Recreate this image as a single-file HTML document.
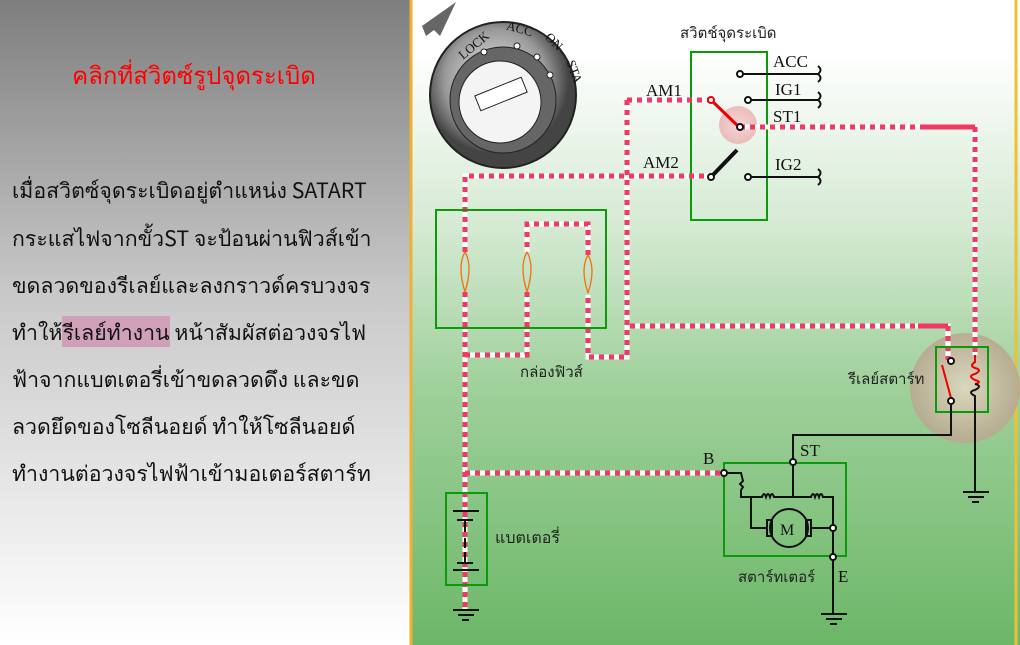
<!DOCTYPE html>
<html><head><meta charset="utf-8"><style>
body{margin:0;width:1020px;height:645px;overflow:hidden;position:relative;font-family:"Liberation Sans","Noto Sans CJK SC",sans-serif}
#left{position:absolute;left:0;top:0;width:410px;height:645px;background:linear-gradient(#7e7e7e,#c8c8c8 45%,#ffffff)}
.t{position:absolute;left:12px;font-family:"Noto Sans CJK SC",sans-serif;font-size:21.3px;color:#111;white-space:nowrap;line-height:30px}
#right{position:absolute;left:410px;top:0;width:610px;height:645px;background:linear-gradient(#ffffff 0%,#ffffff 8%,#d5ead3 35%,#9fd09b 60%,#6cb768 100%)}
</style></head><body>
<div id="left">
<div style="position:absolute;left:0;width:388px;top:56px;text-align:center;color:#f00;font-size:24px;font-family:'Noto Sans CJK SC',sans-serif">คลิกที่สวิตซ์รูปจุดระเบิด</div>
<div class="t" style="top:175px">เมื่อสวิตซ์จุดระเบิดอยู่ตำแหน่ง SATART</div>
<div class="t" style="top:223px">กระแสไฟจากขั้วST จะป้อนผ่านฟิวส์เข้า</div>
<div class="t" style="top:270px">ขดลวดของรีเลย์และลงกราวด์ครบวงจร</div>
<div class="t" style="top:317px">ทำให้<span style="background:#d0a0b8">รีเลย์ทำงาน</span> หน้าสัมผัสต่อวงจรไฟ</div>
<div class="t" style="top:364px">ฟ้าจากแบตเตอรี่เข้าขดลวดดึง และขด</div>
<div class="t" style="top:411px">ลวดยึดของโซลีนอยด์ ทำให้โซลีนอยด์</div>
<div class="t" style="top:458px">ทำงานต่อวงจรไฟฟ้าเข้ามอเตอร์สตาร์ท</div>
</div>
<div id="right"></div>
<svg style="position:absolute;left:0;top:0" width="1020" height="645">
<defs>
<radialGradient id="h1"><stop offset="0" stop-color="#f8d8d8"/><stop offset="1" stop-color="#e8b0b0" stop-opacity=".8"/></radialGradient>
<radialGradient id="h2"><stop offset="0" stop-color="#e0d8c0"/><stop offset="1" stop-color="#b8a890"/></radialGradient>
<radialGradient id="k1" cx=".45" cy=".4"><stop offset="0" stop-color="#f0f0f0"/><stop offset=".7" stop-color="#999"/><stop offset="1" stop-color="#444"/></radialGradient>
</defs>
<line x1="411" y1="0" x2="411" y2="645" stroke="#f0b030" stroke-width="3"/>
<line x1="1016" y1="0" x2="1016" y2="645" stroke="#f0c030" stroke-width="3"/>
<polygon points="456,2 422,26 426,36 434,30 440,36" fill="#666"/>
<circle cx="503" cy="95" r="73" fill="url(#k1)" stroke="#222" stroke-width="2"/>
<circle cx="503" cy="100" r="53" fill="#666" stroke="#222"/>
<circle cx="500" cy="102" r="41" fill="#f4f4f4" stroke="#222"/>
<rect x="476" y="86" width="50" height="16" fill="#fff" stroke="#222" transform="rotate(-22 501 94)"/>
<g font-family="Liberation Serif" font-size="13" fill="#111">
<text x="455" y="52" transform="rotate(-40 470 45)">LOCK</text>
<text x="506" y="33" transform="rotate(15 520 30)">ACC</text>
<text x="541" y="44" transform="rotate(45 550 45)">ON</text>
<text x="558" y="66" transform="rotate(70 565 70)">STA</text>
</g>
<circle cx="484" cy="52" r="3" fill="#fff" stroke="#222"/><circle cx="517" cy="46" r="3" fill="#fff" stroke="#222"/><circle cx="537" cy="57" r="3" fill="#fff" stroke="#222"/><circle cx="550" cy="75" r="3" fill="#fff" stroke="#222"/>
<text x="680" y="38" font-family="Noto Sans CJK SC,sans-serif" font-size="15" fill="#222">สวิตช์จุดระเบิด</text>
<rect x="691" y="52" width="76" height="168" fill="none" stroke="#0a9a0a" stroke-width="2"/>
<circle cx="738" cy="125" r="19" fill="url(#h1)"/>
<circle cx="965" cy="388" r="55" fill="url(#h2)" opacity=".9"/>
<g font-family="Liberation Serif" font-size="17" fill="#111">
<text x="646" y="96">AM1</text><text x="643" y="168">AM2</text>
<text x="773" y="67">ACC</text><text x="775" y="95">IG1</text><text x="773" y="122">ST1</text><text x="775" y="170">IG2</text>
<text x="703" y="464">B</text><text x="800" y="456">ST</text><text x="838" y="582">E</text>
</g>
<g stroke="#111" stroke-width="2" fill="none">
<line x1="740" y1="74" x2="818" y2="74"/><line x1="748" y1="100" x2="818" y2="100"/><line x1="748" y1="177" x2="818" y2="177"/>
<path d="M818,66 q5,4 0,8 q5,4 0,8"/><path d="M818,92 q5,4 0,8 q5,4 0,8"/><path d="M818,169 q5,4 0,8 q5,4 0,8"/>
<line x1="711" y1="177" x2="737" y2="150" stroke-width="4"/>
</g>
<line x1="711" y1="100" x2="738" y2="126" stroke="#e00" stroke-width="3"/>
<g fill="none" stroke-width="5">
<g stroke="#fff">
<path d="M627,100H711M627,100V357H588V295M588,255V224H527V252M527,292V355H465M465,292V610M465,252V176H711M465,473H724M740,127H975V355M630,326H948V360"/>
</g>
<g stroke="#f03a64" stroke-dasharray="5 5">
<path d="M627,100H711M627,100V357H588V295M588,255V224H527V252M527,292V355H465M465,292V610M465,252V176H711M465,473H724M740,127H925M975,127V355M630,326H918M948,326V360"/>
</g>
<path d="M925,127H975M918,326H948" stroke="#f03a64"/>
</g>
<rect x="436" y="210" width="170" height="118" fill="none" stroke="#0a9a0a" stroke-width="2"/>
<g stroke="#f07010" stroke-width="1.3" fill="none">
<path d="M465,252 q-8,14 0,40 M465,252 q8,14 0,40"/><path d="M527,252 q-8,14 0,40 M527,252 q8,14 0,40"/><path d="M588,255 q-8,14 0,38 M588,255 q8,14 0,38"/>
</g>
<text x="520" y="377" font-family="Noto Sans CJK SC,sans-serif" font-size="15" fill="#222">กล่องฟิวส์</text>
<rect x="446" y="493" width="41" height="92" fill="none" stroke="#0a9a0a" stroke-width="2"/>
<g stroke="#111" stroke-width="2"><line x1="453" y1="511" x2="479" y2="511"/><line x1="457" y1="520" x2="473" y2="520"/><line x1="465" y1="520" x2="465" y2="532"/><line x1="465" y1="538" x2="465" y2="548"/><line x1="465" y1="552" x2="465" y2="563"/><line x1="457" y1="563" x2="473" y2="563"/><line x1="453" y1="570" x2="479" y2="570"/></g>
<text x="495" y="543" font-family="Noto Sans CJK SC,sans-serif" font-size="16" fill="#222">แบตเตอรี่</text>
<g stroke="#111" stroke-width="2">
<line x1="453" y1="610" x2="479" y2="610"/><line x1="458" y1="615" x2="474" y2="615"/><line x1="462" y1="620" x2="469" y2="620"/>
<line x1="821" y1="614" x2="847" y2="614"/><line x1="826" y1="619" x2="842" y2="619"/><line x1="830" y1="624" x2="837" y2="624"/>
<line x1="963" y1="492" x2="989" y2="492"/><line x1="968" y1="497" x2="984" y2="497"/><line x1="972" y1="502" x2="979" y2="502"/>
</g>
<rect x="936" y="347" width="52" height="65" fill="none" stroke="#0a9a0a" stroke-width="2"/>
<text x="848" y="384" font-family="Noto Sans CJK SC,sans-serif" font-size="15" fill="#222">รีเลย์สตาร์ท</text>
<line x1="951" y1="398" x2="942" y2="365" stroke="#e00" stroke-width="2"/>
<path d="M975,355V362 q-6,4 0,6 q8,2 0,6 q-8,2 0,6 q8,2 0,4" stroke="#e00" stroke-width="2" fill="none"/>
<path d="M975,384 q8,2 0,6 q-8,2 0,6V492" stroke="#111" stroke-width="2" fill="none"/>
<path d="M951,401V435H793V462" stroke="#111" stroke-width="2" fill="none"/>
<rect x="724" y="463" width="122" height="93" fill="none" stroke="#0a9a0a" stroke-width="2"/>
<g stroke="#111" stroke-width="2" fill="none">
<path d="M724,473H741 l2,8 l-3,3 l3,3 l-2,3 V497H762 q2,-6 4,0 q2,-6 4,0 q2,-6 4,0 H793 V462"/>
<path d="M793,497H811 q2,-6 4,0 q2,-6 4,0 q2,-6 4,0 H833 V614"/>
<path d="M751,497V528H767 M811,528H833"/>
<circle cx="789" cy="528" r="19"/>
<rect x="767" y="520" width="5" height="16"/><rect x="806" y="520" width="5" height="16"/>
</g>
<text x="780" y="535" font-family="Liberation Serif" font-size="16" fill="#111">M</text>
<text x="738" y="582" font-family="Noto Sans CJK SC,sans-serif" font-size="15" fill="#222">สตาร์ทเตอร์</text>
<g fill="#fff" stroke="#111" stroke-width="2">
<circle cx="740" cy="74" r="3"/><circle cx="748" cy="100" r="3"/><circle cx="748" cy="177" r="3"/><circle cx="711" cy="177" r="3"/><circle cx="740" cy="127" r="3"/>
<circle cx="951" cy="361" r="3"/><circle cx="951" cy="401" r="3"/><circle cx="793" cy="462" r="3"/><circle cx="724" cy="473" r="3"/><circle cx="833" cy="528" r="3"/><circle cx="833" cy="557" r="3"/>
</g>
<circle cx="711" cy="100" r="3" fill="#fff" stroke="#e00" stroke-width="2"/>
</svg>
</body></html>
